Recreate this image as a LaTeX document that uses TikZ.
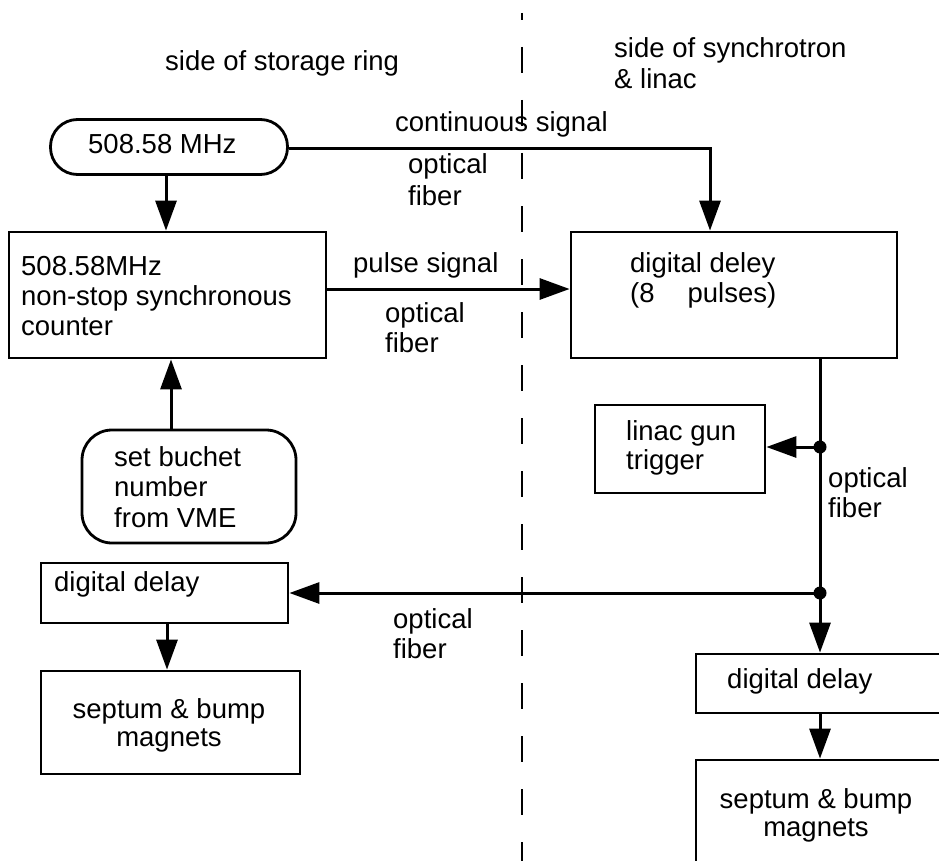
\documentclass[tikz,border=0pt]{standalone}
\usepackage{fontspec}
\setmainfont{Liberation Sans}
\usetikzlibrary{arrows.meta}
\begin{document}
\begin{tikzpicture}[x=1pt,y=-1pt,
  box/.style={draw, line width=2.8pt, rectangle, inner sep=0pt},
  lbl/.style={anchor=base west, inner sep=0pt, font=\fontsize{27.5}{30}\selectfont},
  clbl/.style={anchor=base, inner sep=0pt, font=\fontsize{27.5}{30}\selectfont},
  conn/.style={line width=3pt},
  arr/.style={conn, -{Triangle[length=30pt,width=21pt]}},
  junction/.style={circle, fill, inner sep=0pt, minimum size=13pt},
  divider/.style={line width=2.2pt, dash pattern=on 26pt off 27pt, dash phase=19pt}]
\useasboundingbox (0,0) rectangle (939,861);
\clip (0,0) rectangle (939,861);

% boundary between the two sides
\draw[divider] (522,13) -- (522,861);

% side headings
\node[lbl] (hleft) at (165,71) {side of storage ring};
\node[lbl] (hright1) at (614,58) {side of synchrotron};
\node[lbl] (hright2) at (614,89) {\& linac};

% boxes
\node[box, rounded corners=27pt, minimum width=237pt, minimum height=55pt] (clk) at (169,147) {};
\node[box, minimum width=317pt, minimum height=126pt] (cnt) at (167.5,295) {};
\node[box, minimum width=326pt, minimum height=126pt] (dly) at (734,295) {};
\node[box, minimum width=170pt, minimum height=88pt] (linac) at (680,449) {};
\node[box, rounded corners=30pt, minimum width=214pt, minimum height=113pt] (setb) at (189,486.5) {};
\node[box, minimum width=247pt, minimum height=60pt] (ldd) at (164.5,593) {};
\node[box, minimum width=259pt, minimum height=103pt] (lsep) at (170.5,722.5) {};
\node[box, minimum width=247pt, minimum height=59pt] (rdd) at (819.5,683.5) {};
\node[box, minimum width=259pt, minimum height=110pt] (rsep) at (825.5,815) {};

% box texts
\node[lbl] (tclk) at (88,154) {508.58 MHz};
\node[lbl] (tcnt1) at (21,275) {508.58MHz};
\node[lbl] (tcnt2) at (21,305) {non-stop synchronous};
\node[lbl] (tcnt3) at (21,335) {counter};
\node[lbl] (tdly1) at (630,272) {digital deley};
\node[lbl] (tdly2) at (630,302) {(8\hspace{33pt}pulses)};
\node[lbl] (tlin1) at (626,440) {linac gun};
\node[lbl] (tlin2) at (626,469) {trigger};
\node[lbl] (tset1) at (114,466) {set buchet};
\node[lbl] (tset2) at (114,496) {number};
\node[lbl] (tset3) at (114,527) {from VME};
\node[lbl] (tldd) at (54,591) {digital delay};
\node[clbl] (tlsep1) at (169,718) {septum \& bump};
\node[clbl] (tlsep2) at (169,746) {magnets};
\node[lbl] (trdd) at (727,688) {digital delay};
\node[clbl] (trsep1) at (816,808) {septum \& bump};
\node[clbl] (trsep2) at (816,836) {magnets};

% connector labels
\node[lbl] (lcont) at (395,132) {continuous signal};
\node[lbl] (lof1a) at (408,174) {optical};
\node[lbl] (lof1b) at (408,205) {fiber};
\node[lbl] (lpulse) at (353,272) {pulse signal};
\node[lbl] (lof2a) at (385,322) {optical};
\node[lbl] (lof2b) at (385,352) {fiber};
\node[lbl] (lof3a) at (828,487) {optical};
\node[lbl] (lof3b) at (828,517) {fiber};
\node[lbl] (lof4a) at (393,628) {optical};
\node[lbl] (lof4b) at (393,658) {fiber};

% junctions on the fibre trunk
\node[junction] (j1) at (820,447) {};
\node[junction] (j2) at (820,593) {};

% connectors
\draw[arr] ([xshift=-3pt]clk.south) -- ([xshift=-3pt]clk.south |- cnt.north);
\draw[arr] ([yshift=-1.5pt]clk.east) -| ([xshift=-24pt]dly.north);
\draw[arr] ([yshift=6pt]cnt.east) -- ([yshift=6pt]dly.west);
\draw[arr] ([xshift=-18pt]setb.north) -- ([xshift=-18pt]setb.north |- cnt.south);
\draw[conn] (j1 |- dly.south) -- (j1.center) -- (j2.center);
\draw[arr] (j1.center) -- (j1 -| linac.east);
\draw[arr] (j2.center) -- (j2 -| ldd.east);
\draw[arr] (j2.center) -- (j2 |- rdd.north);
\draw[arr] ([xshift=2.5pt]ldd.south) -- ([xshift=-3.5pt]lsep.north);
\draw[arr] (j2 |- rdd.south) -- (j2 |- rsep.north);
\end{tikzpicture}
\end{document}
